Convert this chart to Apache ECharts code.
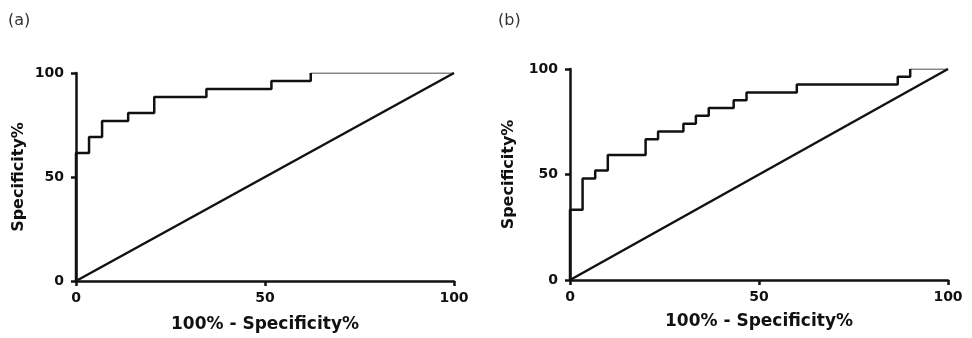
<!DOCTYPE html>
<html>
<head>
<meta charset="utf-8">
<title>ROC curves (a) and (b)</title>
<script src="https://cdn.jsdelivr.net/npm/echarts@6/dist/echarts.min.js"></script>
<style>
  html, body { margin: 0; padding: 0; background: #fff; }
  #chart { width: 972px; height: 338px; }
</style>
</head>
<body>
<div id="chart"></div>
<script>
// ROC points: 100% - specificity (x) and sensitivity (y)
var rocAx = [0, 0, 3.45, 6.9, 13.8, 20.7, 34.5, 51.7, 62.1, 100];
var rocAy = [0, 61.5, 69.2, 76.9, 80.8, 88.5, 92.3, 96.2, 100, 100];

var rocBx = [0, 0, 3.33, 6.67, 10, 20, 23.3, 30, 33.3, 36.7, 43.3, 46.7, 60, 86.7, 90, 100];
var rocBy = [0, 33.3, 48.1, 51.9, 59.3, 66.7, 70.4, 74.1, 77.8, 81.5, 85.2, 88.9, 92.6, 96.3, 100, 100];

// reference line
var diagX = [0, 100];
var diagY = [0, 100];

var axisTicks = [0, 50, 100];
var panelLabels = ['(a)', '(b)'];
var xTitle = '100% - Specificity%';
var yTitle = 'Specificity%';

function pairs(xs, ys) {
    var out = [];
    for (var i = 0; i < xs.length; i++) out.push([xs[i], ys[i]]);
    return out;
}

var ink = '#111';
var labelFont = { fontFamily: 'DejaVu Sans', fontWeight: 'bold', fontSize: 14, color: ink };
var nameFont = { fontFamily: 'DejaVu Sans', fontWeight: 'bold', fontSize: 17, color: ink };

function valueAxis(gridIndex, name, gap, isY) {
    return {
        type: 'value',
        gridIndex: gridIndex,
        min: 0,
        max: 100,
        interval: 50,
        name: name,
        nameLocation: 'middle',
        nameGap: gap,
        nameTextStyle: isY ? Object.assign({}, nameFont, { fontSize: 16 }) : nameFont,
        splitLine: { show: false },
        axisLine: { show: true, onZero: false, lineStyle: { color: ink, width: 2.5 } },
        axisTick: { show: true, inside: false, length: 5, lineStyle: { color: ink, width: 2.5 } },
        axisLabel: Object.assign({ margin: isY ? 12 : 10, formatter: function (v) {
            return axisTicks.indexOf(v) >= 0 ? String(v) : '';
        } }, labelFont)
    };
}

// main curve up to the last step, thin tail along the top edge
function rocSeries(xs, ys, idx) {
    var pts = pairs(xs, ys);
    var n = pts.length;
    return [
        {
            type: 'line', xAxisIndex: idx, yAxisIndex: idx,
            data: pts.slice(0, n - 1), step: 'end', symbol: 'none',
            lineStyle: { color: ink, width: 2.5 }, silent: true, animation: false
        },
        {
            type: 'line', xAxisIndex: idx, yAxisIndex: idx,
            data: pts.slice(n - 2), symbol: 'none',
            lineStyle: { color: ink, width: 1.2 }, silent: true, animation: false
        },
        {
            type: 'line', xAxisIndex: idx, yAxisIndex: idx,
            data: pairs(diagX, diagY), symbol: 'none',
            lineStyle: { color: ink, width: 2.5 }, silent: true, animation: false
        }
    ];
}

var myChart = echarts.init(document.getElementById('chart'));
var option = {
    backgroundColor: '#fff',
    title: [
        { text: panelLabels[0], left: 3, top: 8,
          textStyle: { fontFamily: 'DejaVu Sans', fontWeight: 'normal', fontSize: 16, color: '#333' } },
        { text: panelLabels[1], left: 493, top: 8,
          textStyle: { fontFamily: 'DejaVu Sans', fontWeight: 'normal', fontSize: 16, color: '#333' } }
    ],
    grid: [
        { left: 76, top: 73, width: 378, height: 210 },
        { left: 570, top: 69, width: 378, height: 211 }
    ],
    xAxis: [
        valueAxis(0, xTitle, 35, false),
        valueAxis(1, xTitle, 33, false)
    ],
    yAxis: [
        valueAxis(0, yTitle, 49, true),
        valueAxis(1, yTitle, 53, true)
    ],
    series: rocSeries(rocAx, rocAy, 0).concat(rocSeries(rocBx, rocBy, 1))
};
myChart.setOption(option);
</script>
</body>
</html>
